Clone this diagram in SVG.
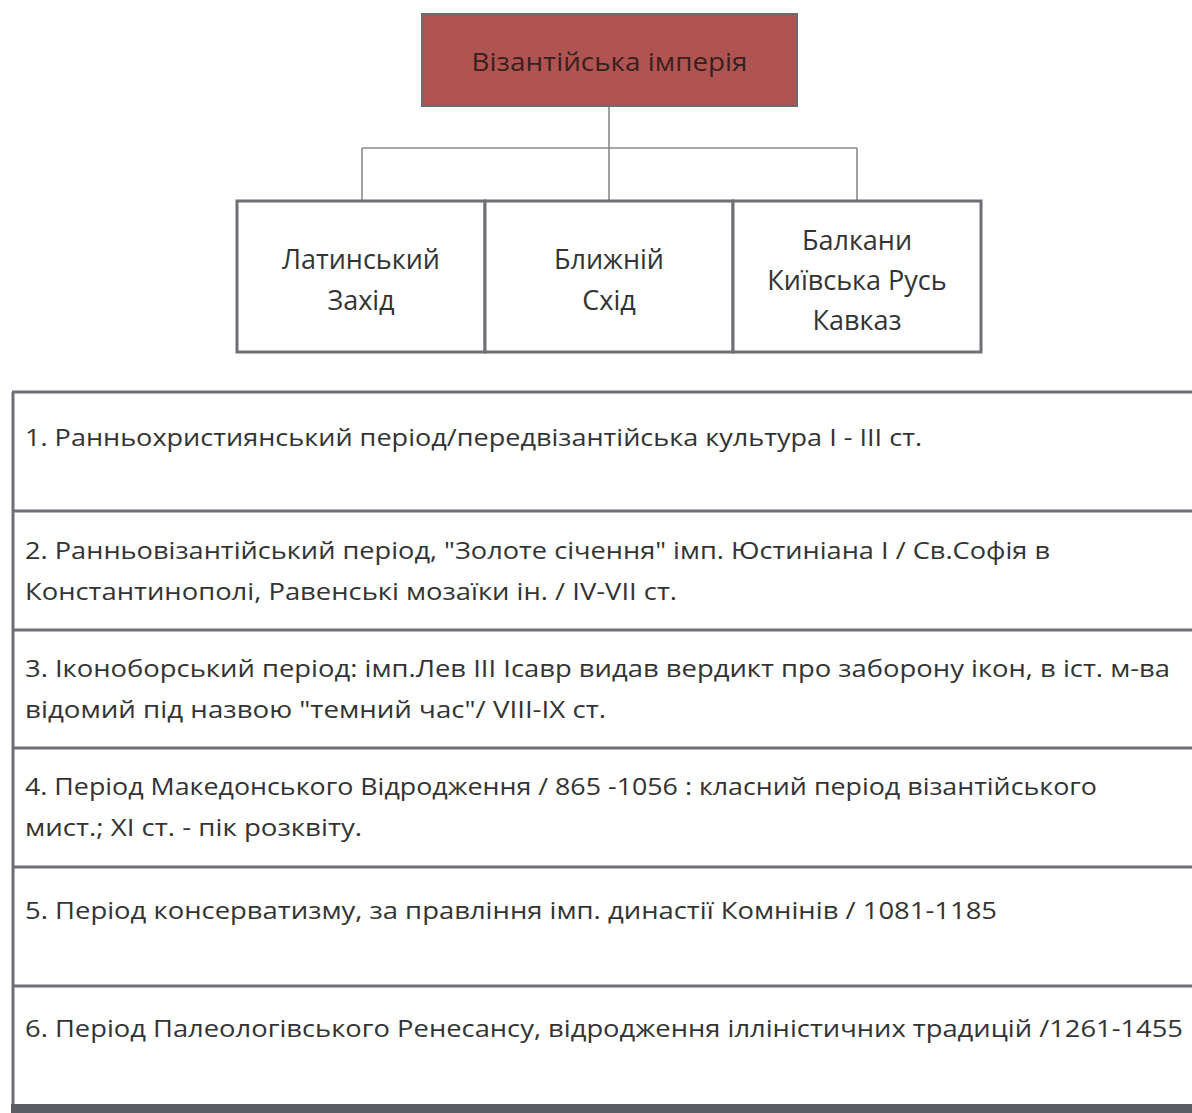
<svg xmlns="http://www.w3.org/2000/svg" width="1192" height="1113" viewBox="0 0 1192 1113">
<style>
  .t { font-family: "Open Sans", "Noto Sans", "DejaVu Sans", sans-serif; fill: #333333; }
  .row { font-size: 24px; }
  .cat { font-size: 27px; text-anchor: middle; }
  .title { font-size: 25px; text-anchor: middle; fill: #3a1f1f; }
  .box { fill: #ffffff; stroke: #6e6e74; stroke-width: 3; }
  .conn { stroke: #8a8a8a; stroke-width: 1.6; fill: none; }
  .grid { stroke: #6e6e76; stroke-width: 3; fill: none; }
</style>
<rect width="1192" height="1113" fill="#ffffff"/>

<g id="connectors">
  <path class="conn" d="M609 107 V200 M362 148 H857 M362 148 V200 M857 148 V200"/>
</g>

<g id="root">
  <rect x="422" y="14" width="375" height="92" fill="#b05452" stroke="#6c6c70" stroke-width="2"/>
  <text class="t title" x="609.5" y="71" textLength="276" lengthAdjust="spacingAndGlyphs">Візантійська імперія</text>
</g>

<g id="latin-west">
  <rect class="box" x="237" y="201" width="248" height="151"/>
  <text class="t cat" x="361" y="269">Латинський</text>
  <text class="t cat" x="361" y="310">Захід</text>
</g>
<g id="near-east">
  <rect class="box" x="485" y="201" width="248" height="151"/>
  <text class="t cat" x="609" y="269">Ближній</text>
  <text class="t cat" x="609" y="310">Схід</text>
</g>
<g id="balkans">
  <rect class="box" x="733" y="201" width="248" height="151"/>
  <text class="t cat" x="857" y="250">Балкани</text>
  <text class="t cat" x="857" y="290">Київська Русь</text>
  <text class="t cat" x="857" y="330">Кавказ</text>
</g>

<g id="periods-table">
  <path class="grid" d="M13 392 V1105 M12 392 H1192 M13 511 H1192 M13 630 H1192 M13 748 H1192 M13 867 H1192 M13 986 H1192"/>
  <rect x="11" y="1104" width="1181" height="9" fill="#5c5c64"/>
</g>

<g id="period-1">
  <text class="t row" x="25" y="446" textLength="897" lengthAdjust="spacingAndGlyphs">1. Ранньохристиянський період/передвізантійська культура I - III ст.</text>
</g>
<g id="period-2">
  <text class="t row" x="25" y="559" textLength="1025" lengthAdjust="spacingAndGlyphs">2. Ранньовізантійський період, "Золоте січення" імп. Юстиніана I / Св.Софія в</text>
  <text class="t row" x="25" y="600" textLength="652" lengthAdjust="spacingAndGlyphs">Константинополі, Равенські мозаїки ін. / IV-VII ст.</text>
</g>
<g id="period-3">
  <text class="t row" x="25" y="677" textLength="1145" lengthAdjust="spacingAndGlyphs">3. Іконоборський період: імп.Лев III Ісавр видав вердикт про заборону ікон, в іст. м-ва</text>
  <text class="t row" x="25" y="718" textLength="581" lengthAdjust="spacingAndGlyphs">відомий під назвою "темний час"/ VIII-IX ст.</text>
</g>
<g id="period-4">
  <text class="t row" x="25" y="795" textLength="1072" lengthAdjust="spacingAndGlyphs">4. Період Македонського Відродження / 865 -1056 : класний період візантійського</text>
  <text class="t row" x="25" y="836" textLength="337" lengthAdjust="spacingAndGlyphs">мист.; XI ст. - пік розквіту.</text>
</g>
<g id="period-5">
  <text class="t row" x="25" y="919" textLength="972" lengthAdjust="spacingAndGlyphs">5. Період консерватизму, за правління імп. династії Комнінів / 1081-1185</text>
</g>
<g id="period-6">
  <text class="t row" x="25" y="1037" textLength="1158" lengthAdjust="spacingAndGlyphs">6. Період Палеологівського Ренесансу, відродження ілліністичних традицій /1261-1455</text>
</g>
</svg>
